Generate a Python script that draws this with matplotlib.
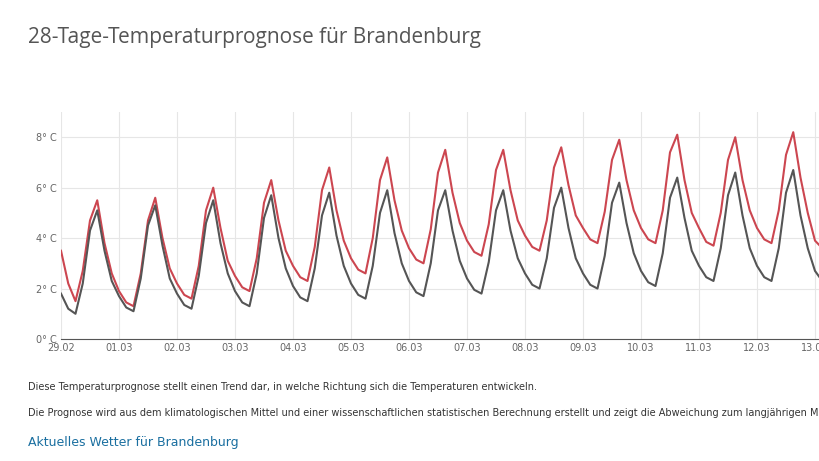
import matplotlib.pyplot as plt
import numpy as np

# 3-hourly values (00, 03, ..., 21 h) starting 29.02 00:00
red_temp = [
    3.5, 2.2, 1.5, 2.7, 4.7, 5.5, 3.8, 2.6,
    1.9, 1.45, 1.3, 2.6, 4.7, 5.6, 4.0, 2.8,
    2.2, 1.75, 1.6, 2.9, 5.1, 6.0, 4.4, 3.1,
    2.5, 2.05, 1.9, 3.2, 5.4, 6.3, 4.7, 3.5,
    2.9, 2.45, 2.3, 3.65, 5.9, 6.8, 5.1, 3.9,
    3.2, 2.75, 2.6, 4.0, 6.3, 7.2, 5.5, 4.3,
    3.6, 3.15, 3.0, 4.35, 6.6, 7.5, 5.8, 4.6,
    3.9, 3.45, 3.3, 4.55, 6.7, 7.5, 5.9, 4.7,
    4.1, 3.65, 3.5, 4.7, 6.8, 7.6, 6.1, 4.9,
    4.4, 3.95, 3.8, 5.05, 7.1, 7.9, 6.3, 5.1,
    4.4, 3.95, 3.8, 5.1, 7.4, 8.1, 6.3, 5.0,
    4.4, 3.85, 3.7, 5.0, 7.1, 8.0, 6.3, 5.1,
    4.4, 3.95, 3.8, 5.1, 7.3, 8.2, 6.4, 5.0,
    3.9, 3.6,
]
gray_temp = [
    1.8, 1.2, 1.0, 2.2, 4.3, 5.1, 3.5, 2.3,
    1.7, 1.25, 1.1, 2.4, 4.5, 5.3, 3.7, 2.4,
    1.8, 1.35, 1.2, 2.5, 4.6, 5.5, 3.8, 2.6,
    1.9, 1.45, 1.3, 2.6, 4.8, 5.7, 4.0, 2.8,
    2.1, 1.65, 1.5, 2.8, 4.9, 5.8, 4.1, 2.9,
    2.2, 1.75, 1.6, 2.9, 5.0, 5.9, 4.2, 3.0,
    2.3, 1.85, 1.7, 3.0, 5.1, 5.9, 4.3, 3.1,
    2.4, 1.95, 1.8, 3.05, 5.1, 5.9, 4.3, 3.2,
    2.6, 2.15, 2.0, 3.2, 5.2, 6.0, 4.4, 3.2,
    2.6, 2.15, 2.0, 3.3, 5.4, 6.2, 4.6, 3.4,
    2.7, 2.25, 2.1, 3.4, 5.6, 6.4, 4.8, 3.5,
    2.9, 2.45, 2.3, 3.6, 5.7, 6.6, 4.9, 3.6,
    2.9, 2.45, 2.3, 3.6, 5.8, 6.7, 4.9, 3.6,
    2.7, 2.3,
]
day_labels = ["29.02", "01.03", "02.03", "03.03", "04.03", "05.03", "06.03",
              "07.03", "08.03", "09.03", "10.03", "11.03", "12.03", "13.03"]
y_ticks = [0, 2, 4, 6, 8]

t = np.arange(len(red_temp)) / 8.0

fig = plt.figure(figsize=(8.19, 4.61), dpi=100)
ax = fig.add_axes([61 / 819, 1 - 339 / 461, (819 - 61) / 819, (339 - 112) / 461])
ax.plot(t, red_temp, color="#cc4650", lw=1.5, solid_joinstyle="round")
ax.plot(t, gray_temp, color="#555555", lw=1.5, solid_joinstyle="round")
ax.set_xlim(0, 758 / 58)
ax.set_ylim(0, 9)
ax.set_xticks(range(len(day_labels)))
ax.set_xticklabels(day_labels)
ax.set_yticks(y_ticks)
ax.set_yticklabels([f"{v}° C" for v in y_ticks])
ax.grid(True, color="#e6e6e6", lw=0.8)
ax.tick_params(labelsize=7, colors="#666666", length=0, pad=3)
for s in ["top", "right", "left"]:
    ax.spines[s].set_visible(False)
ax.spines["bottom"].set_color("#555555")
ax.spines["bottom"].set_linestyle((0, (1, 1)))

fig.text(28 / 819, 1 - 38 / 461, "28-Tage-Temperaturprognose für Brandenburg",
         fontsize=15, color="#555555", va="center", family="Open Sans")
fig.text(28 / 819, 1 - 387 / 461,
         "Diese Temperaturprognose stellt einen Trend dar, in welche Richtung sich die Temperaturen entwickeln.",
         fontsize=7, color="#333333", va="center")
fig.text(28 / 819, 1 - 413 / 461,
         "Die Prognose wird aus dem klimatologischen Mittel und einer wissenschaftlichen statistischen Berechnung erstellt und zeigt die Abweichung zum langjährigen Mittel.",
         fontsize=7, color="#333333", va="center")
fig.text(28 / 819, 1 - 442 / 461, "Aktuelles Wetter für Brandenburg",
         fontsize=9, color="#1a6fa0", va="center")

fig.savefig("out.png", dpi=100)
